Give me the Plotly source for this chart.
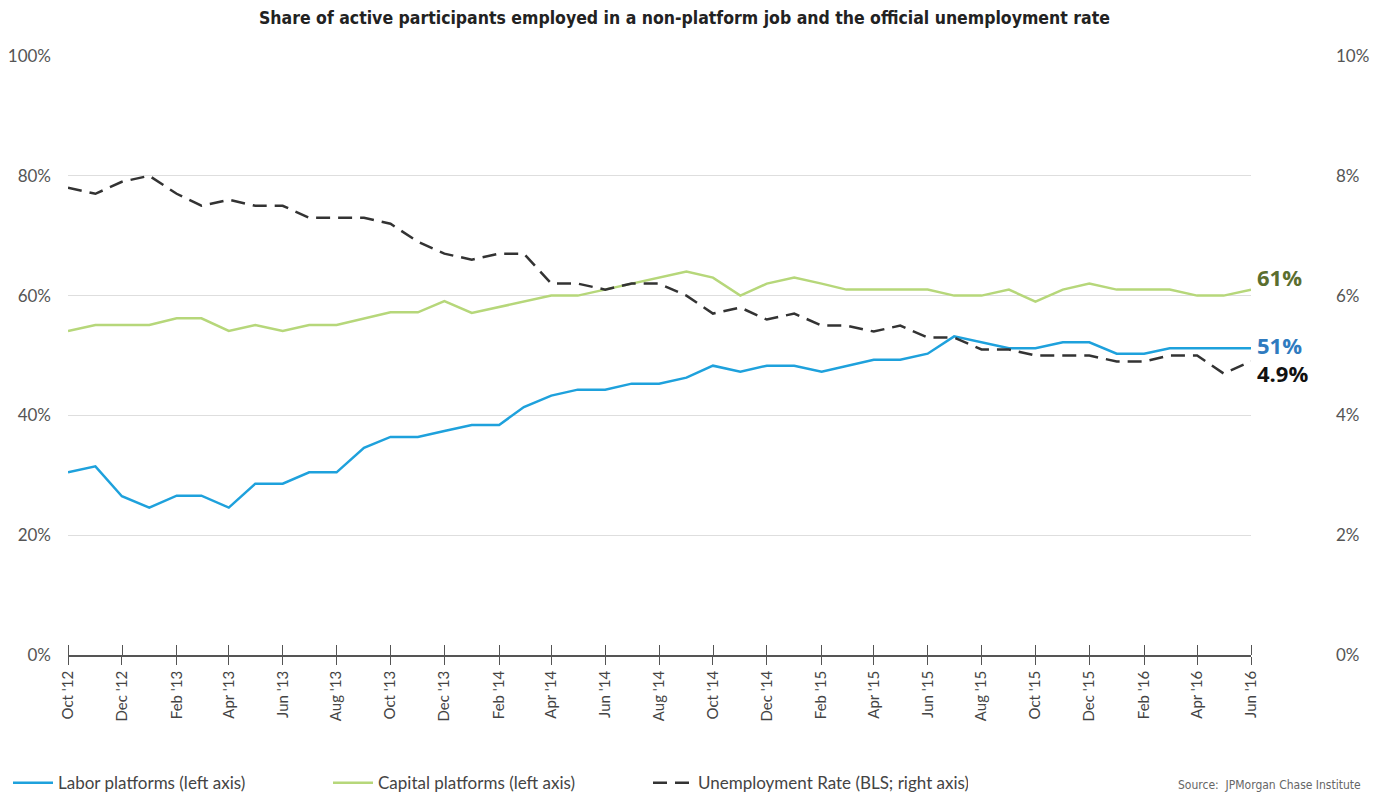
import plotly.graph_objects as go

months = ["2012-10-01","2012-11-01","2012-12-01","2013-01-01","2013-02-01","2013-03-01",
          "2013-04-01","2013-05-01","2013-06-01","2013-07-01","2013-08-01","2013-09-01",
          "2013-10-01","2013-11-01","2013-12-01","2014-01-01","2014-02-01","2014-03-01",
          "2014-04-01","2014-05-01","2014-06-01","2014-07-01","2014-08-01","2014-09-01",
          "2014-10-01","2014-11-01","2014-12-01","2015-01-01","2015-02-01","2015-03-01",
          "2015-04-01","2015-05-01","2015-06-01","2015-07-01","2015-08-01","2015-09-01",
          "2015-10-01","2015-11-01","2015-12-01","2016-01-01","2016-02-01","2016-03-01",
          "2016-04-01","2016-05-01","2016-06-01"]

labor = [30.5, 31.5, 26.5, 24.6, 26.6, 26.6, 24.6, 28.6, 28.6, 30.5, 30.5, 34.6, 36.4, 36.4, 37.4,
         38.4, 38.4, 41.4, 43.3, 44.3, 44.3, 45.3, 45.3, 46.3, 48.3, 47.3, 48.3, 48.3, 47.3, 48.3,
         49.3, 49.3, 50.3, 53.2, 52.2, 51.2, 51.2, 52.2, 52.2, 50.3, 50.3, 51.2, 51.2, 51.2, 51.2]

capital = [54.1, 55.1, 55.1, 55.1, 56.2, 56.2, 54.1, 55.1, 54.1, 55.1, 55.1, 56.2, 57.2, 57.2, 59.1,
           57.1, 58.1, 59.1, 60, 60, 61, 62, 63, 64, 63, 60, 62, 63, 62, 61,
           61, 61, 61, 60, 60, 61, 59, 61, 62, 61, 61, 61, 60, 60, 61]

unemployment = [7.8, 7.7, 7.9, 8.0, 7.7, 7.5, 7.6, 7.5, 7.5, 7.3, 7.3, 7.3, 7.2, 6.9, 6.7,
                6.6, 6.7, 6.7, 6.2, 6.2, 6.1, 6.2, 6.2, 6.0, 5.7, 5.8, 5.6, 5.7, 5.5, 5.5,
                5.4, 5.5, 5.3, 5.3, 5.1, 5.1, 5.0, 5.0, 5.0, 4.9, 4.9, 5.0, 5.0, 4.7, 4.9]

tick_vals = months[::2]
tick_text = ["Oct '12", "Dec '12", "Feb '13", "Apr '13", "Jun '13", "Aug '13", "Oct '13",
             "Dec '13", "Feb '14", "Apr '14", "Jun '14", "Aug '14", "Oct '14", "Dec '14",
             "Feb '15", "Apr '15", "Jun '15", "Aug '15", "Oct '15", "Dec '15", "Feb '16",
             "Apr '16", "Jun '16"]

left_ticks = [0, 20, 40, 60, 80, 100]
left_text = ["0%", "20%", "40%", "60%", "80%", "100%"]
right_ticks = [0, 2, 4, 6, 8, 10]
right_text = ["0%", "2%", "4%", "6%", "8%", "10%"]

BLUE = "#1ea1dc"
GREEN = "#b6d77a"
DARK = "#333333"
FONT = "Lato"
NARROW = "DejaVu Sans Condensed"

# upward half of the crossing tick marks (same months, drawn as minor ticks pointing inside)
minor_vals = [m + " 03:00" for m in tick_vals]

fig = go.Figure()
fig.add_trace(go.Scatter(x=months, y=labor, mode="lines", name="Labor platforms (left axis)",
                         line=dict(color=BLUE, width=2.5)))
fig.add_trace(go.Scatter(x=months, y=capital, mode="lines", name="Capital platforms (left axis)",
                         line=dict(color=GREEN, width=2.5)))
fig.add_trace(go.Scatter(x=months, y=unemployment, mode="lines", name="Unemployment Rate (BLS; right axis)",
                         yaxis="y2", line=dict(color=DARK, width=2.5, dash="14px,8px")))

rng = [months[0], months[-1]]
# the page body adds an 8px offset, so the figure is 8px smaller and margins shifted
fig.update_layout(
    width=1376, height=787,
    paper_bgcolor="white", plot_bgcolor="white",
    margin=dict(l=60, r=133, t=48, b=140, autoexpand=False),
    font=dict(family=FONT, color="#444"),
    title=dict(text="<b>Share of active participants employed in a non-platform job and the official unemployment rate</b>",
               x=0.4916, xref="container", xanchor="center", yref="container", y=0.987, yanchor="middle",
               font=dict(family=NARROW, size=17.5, color="#222")),
    xaxis=dict(type="date", range=rng, tickmode="array", tickvals=tick_vals, ticktext=tick_text,
               tickangle=-90, tickfont=dict(size=15, color="#444"), automargin=False,
               showgrid=False, showline=True, linecolor="#555", linewidth=1.5,
               ticks="outside", ticklen=8, tickcolor="#555", tickwidth=1.2, zeroline=False,
               minor=dict(tickmode="array", tickvals=minor_vals, ticks="inside", ticklen=10,
                          tickcolor="#555", tickwidth=1.2, showgrid=False)),
    yaxis=dict(range=[0, 100], tickmode="array", tickvals=left_ticks, ticktext=left_text,
               showgrid=True, gridcolor="#dedede", gridwidth=1, zeroline=False, automargin=False,
               tickfont=dict(size=17, color="#555"), ticklabelstandoff=16, showline=False),
    yaxis2=dict(range=[0, 10], overlaying="y", side="right", tickmode="array", automargin=False,
                tickvals=right_ticks, ticktext=right_text, showgrid=False, zeroline=False,
                tickfont=dict(size=17, color="#555"), ticklabelstandoff=84),
    legend=dict(orientation="h", xref="container", x=0.0, xanchor="left",
                yref="container", y=0.015, yanchor="middle",
                font=dict(size=17, color="#444"), entrywidth=265, entrywidthmode="pixels",
                itemwidth=40, bgcolor="rgba(0,0,0,0)"),
    showlegend=True,
)

fig.add_annotation(x=months[-1], y=capital[-1], xref="x", yref="y", text="<b>61%</b>",
                   showarrow=False, xanchor="left", yanchor="middle", xshift=4, yshift=13,
                   font=dict(family="Open Sans", size=22, color="#5b6e2f"))
fig.add_annotation(x=months[-1], y=labor[-1], xref="x", yref="y", text="<b>51%</b>",
                   showarrow=False, xanchor="left", yanchor="middle", xshift=4, yshift=3,
                   font=dict(family="Open Sans", size=22, color="#2f7bbf"))
fig.add_annotation(x=months[-1], y=unemployment[-1], xref="x", yref="y2", text="<b>4.9%</b>",
                   showarrow=False, xanchor="left", yanchor="middle", xshift=4, yshift=-12,
                   font=dict(family="Open Sans", size=22, color="#111"))
fig.add_annotation(x=1.0947, y=-0.217, xref="paper", yref="paper", text="Source:  JPMorgan Chase Institute",
                   showarrow=False, xanchor="right", yanchor="middle",
                   font=dict(family=NARROW, size=12, color="#666"))

fig.write_html("out.html")
